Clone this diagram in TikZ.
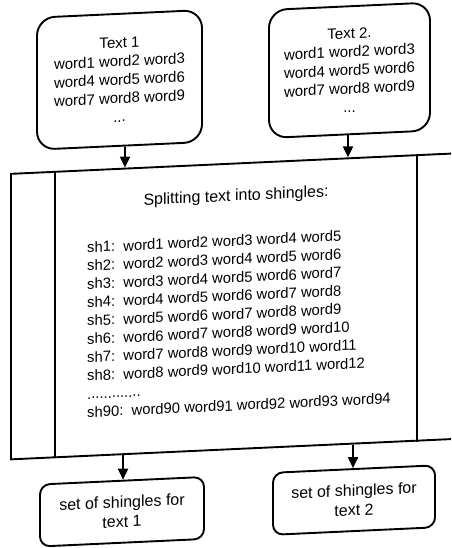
\documentclass[tikz,border=0pt]{standalone}
\usepackage{fontspec}
\setmainfont{Liberation Sans}
\usetikzlibrary{arrows.meta,calc}

\tikzset{
  txtbox/.style={draw, line width=1.9pt, rounded corners=18pt, align=center,
    font=\fontsize{15}{18.5}\selectfont, inner sep=0pt},
  setbox/.style={draw, line width=1.9pt, rounded corners=10pt, align=center,
    font=\fontsize{16}{19.5}\selectfont, inner sep=0pt,
    minimum height=62pt},
  procbox/.style={draw, line width=1.9pt, inner sep=0pt},
  flow/.style={line width=1.9pt, -{Triangle[length=11pt,width=10pt]}},
  divider/.style={line width=1.9pt},
}

\begin{document}
\begin{tikzpicture}[x=1pt, y=1pt]
\clip (0,0) rectangle (451,548);
\fill[white] (0,0) rectangle (451,548);

\begin{scope}[cm={1,0.046,0,1,(0pt,-10.35pt)}, transform shape]

% input texts
\node[txtbox, minimum width=165pt, minimum height=132pt] (t1) at (119.5,473)
  {Text 1\\word1 word2 word3\\word4 word5 word6\\word7 word8 word9\\...};
\node[txtbox, minimum width=161pt, minimum height=128pt] (t2) at (349.5,472)
  {Text 2.\\word1 word2 word3\\word4 word5 word6\\word7 word8 word9\\...};

% predefined-process box
\node[procbox, minimum width=459pt, minimum height=285.5pt] (main) at (240.5,241.25) {};
\draw[divider] ([xshift=45pt]main.north west) -- ([xshift=45pt]main.south west);
\draw[divider] ([xshift=-54pt]main.north east) -- ([xshift=-54pt]main.south east);

\node[font=\fontsize{16}{19}\selectfont] (title) at (236,350.8)
  {Splitting text into shingles:};
\node[anchor=west, align=left, inner sep=0pt,
      font=\fontsize{14.8}{18.3}\selectfont] (list) at (87,224.6)
  {sh1:\ \ word1 word2 word3 word4 word5\\
   sh2:\ \ word2 word3 word4 word5 word6\\
   sh3:\ \ word3 word4 word5 word6 word7\\
   sh4:\ \ word4 word5 word6 word7 word8\\
   sh5:\ \ word5 word6 word7 word8 word9\\
   sh6:\ \ word6 word7 word8 word9 word10\\
   sh7:\ \ word7 word8 word9 word10 word11\\
   sh8:\ \ word8 word9 word10 word11 word12\\
   .............\\
   sh90:\ \ word90 word91 word92 word93 word94};

% resulting shingle sets
\node[setbox, minimum width=164pt] (b1) at (122,41) {set of shingles for\\text 1};
\node[setbox, minimum width=162pt] (b2) at (354,42) {set of shingles for\\text 2};

% connectors
\draw[flow] ([xshift=5.5pt]t1.south) -- ([xshift=5.5pt]t1.south |- main.north);
\draw[flow] ([xshift=-1.5pt]t2.south) -- ([xshift=-1.5pt]t2.south |- main.north);
\draw[flow] ([xshift=1pt]b1.north |- main.south) -- ([xshift=1pt]b1.north);
\draw[flow] ([xshift=-1pt]b2.north |- main.south) -- ([xshift=-1pt]b2.north);

\end{scope}
\end{tikzpicture}
\end{document}
